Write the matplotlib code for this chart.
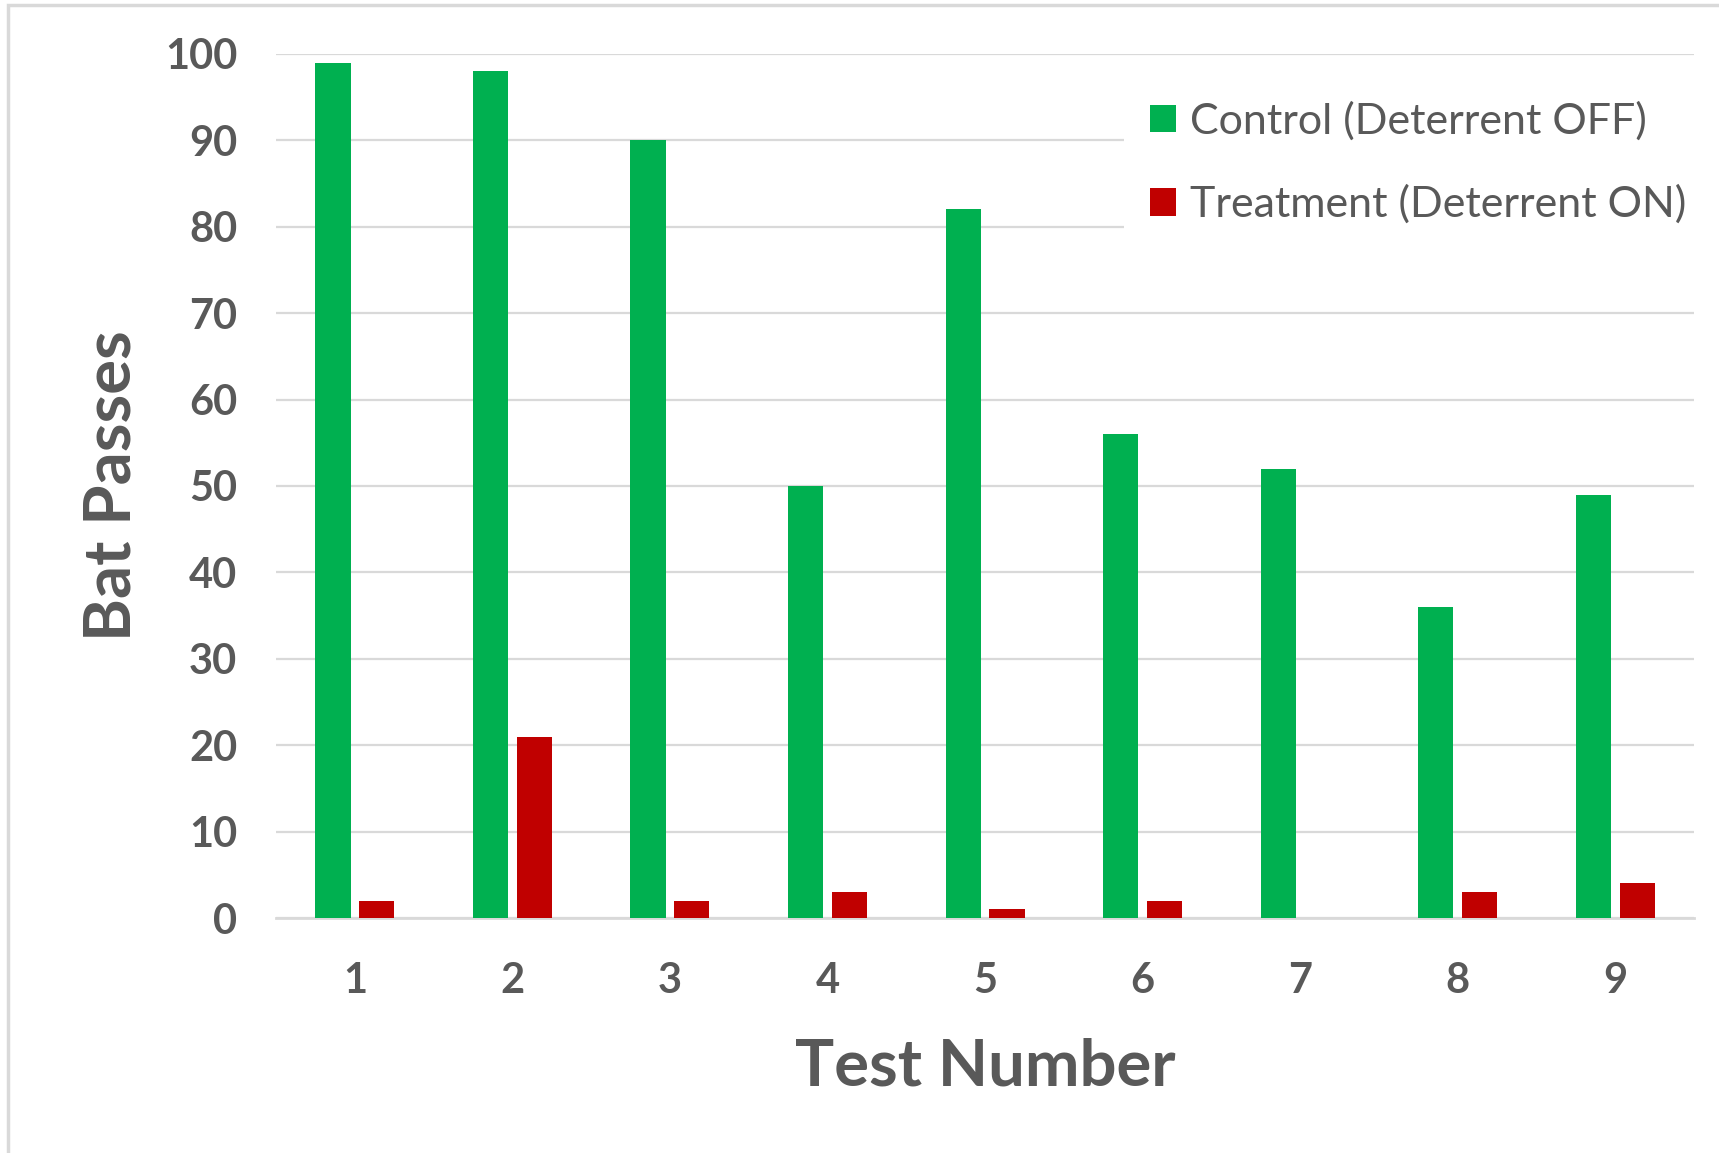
import numpy as np
import matplotlib
matplotlib.use("Agg")
import matplotlib.pyplot as plt
from matplotlib.patches import Rectangle

# test numbers and bat passes per night
tests = ["1", "2", "3", "4", "5", "6", "7", "8", "9"]
control = [99, 98, 90, 50, 82, 56, 52, 36, 49]
treatment = [2, 21, 2, 3, 1, 2, 0, 3, 4]

plt.rcParams['font.family'] = ['Lato', 'DejaVu Sans']
grey = "#595959"

fig = plt.figure(figsize=(17.19, 11.53), dpi=100)
ax = fig.add_axes([0.1606, 0.2038, 0.8249, 0.7494])

x = np.arange(len(tests))
w = 0.223
ax.bar(x - 0.139, control, w, color="#00B050", label="Control (Deterrent OFF)", zorder=3)
ax.bar(x + 0.139, treatment, w, color="#C00000", label="Treatment (Deterrent ON)", zorder=3)

ax.set_xlim(-0.5, len(tests) - 0.5)
ax.set_ylim(0, 100)
ax.set_yticks(np.arange(0, 101, 10))
ax.set_xticks(x)
ax.set_xticklabels(tests)
ax.yaxis.grid(True, color="#d9d9d9", lw=1.6, zorder=0)
ax.tick_params(length=0, labelsize=30, labelcolor=grey)
ax.tick_params(axis="y", pad=28)
ax.tick_params(axis="x", pad=32)
for lab in ax.get_xticklabels() + ax.get_yticklabels():
    lab.set_fontweight("bold")
for s in ["top", "right", "left"]:
    ax.spines[s].set_visible(False)
ax.spines["bottom"].set_color("#d9d9d9")
ax.spines["bottom"].set_linewidth(2)

ax.set_xlabel("Test Number", fontsize=47, fontweight="bold", color=grey, labelpad=27)
ax.set_ylabel("Bat Passes", fontsize=47, fontweight="bold", color=grey, labelpad=17)

leg = ax.legend(loc="upper left", bbox_to_anchor=(0.583, 1.0), fontsize=31,
                frameon=True, facecolor="white", edgecolor="none", framealpha=1,
                handlelength=0.6, handleheight=0.6, handletextpad=0.32,
                labelspacing=1.02, borderpad=0.6)
for t in leg.get_texts():
    t.set_color(grey)

# light outer border of the chart area
fig.patches.append(Rectangle((8 / 1719, -0.1), 1.2, 1 - 5 / 1153 + 0.1,
                             transform=fig.transFigure, fill=False,
                             edgecolor="#d9d9d9", lw=2.5))

fig.savefig("out.png", dpi=100)
